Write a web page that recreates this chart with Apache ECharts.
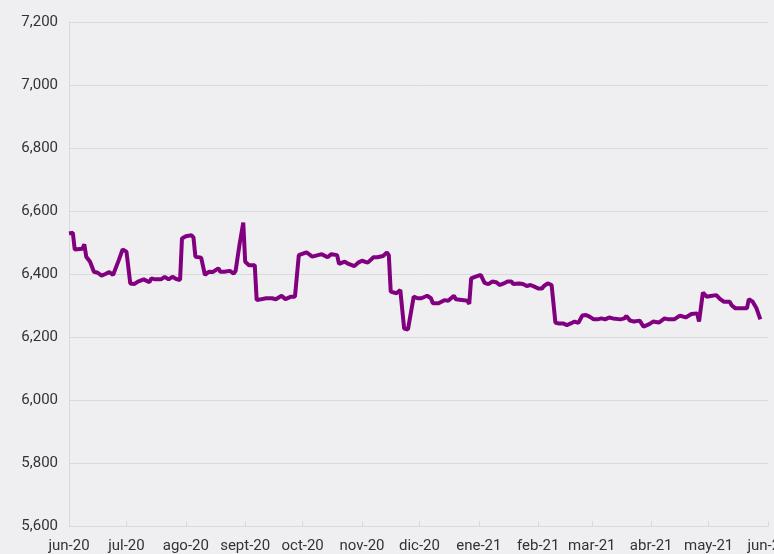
<!DOCTYPE html>
<html>
<head>
<meta charset="utf-8">
<script src="https://cdn.jsdelivr.net/npm/echarts@6/dist/echarts.min.js"></script>
<style>
	html, body { margin: 0; padding: 0; background: #efeff1; }
	#chart { width: 774px; height: 554px; }
</style>
</head>
<body>
<div id="chart"></div>
<script>
/* fechas */
const dates = [
	"2020-06-01", "2020-06-03", "2020-06-04", "2020-06-08", "2020-06-09", "2020-06-10", "2020-06-12", "2020-06-14",
	"2020-06-16", "2020-06-18", "2020-06-20", "2020-06-22", "2020-06-24", "2020-06-27", "2020-06-29", "2020-07-01",
	"2020-07-03", "2020-07-05", "2020-07-07", "2020-07-08", "2020-07-10", "2020-07-13", "2020-07-14", "2020-07-16",
	"2020-07-17", "2020-07-19", "2020-07-21", "2020-07-23", "2020-07-25", "2020-07-27", "2020-07-29", "2020-07-30",
	"2020-08-01", "2020-08-04", "2020-08-05", "2020-08-06", "2020-08-09", "2020-08-10", "2020-08-11", "2020-08-13",
	"2020-08-15", "2020-08-18", "2020-08-19", "2020-08-21", "2020-08-24", "2020-08-26", "2020-08-27", "2020-08-29",
	"2020-08-31", "2020-09-01", "2020-09-03", "2020-09-06", "2020-09-07", "2020-09-08", "2020-09-12", "2020-09-15",
	"2020-09-17", "2020-09-20", "2020-09-22", "2020-09-25", "2020-09-27", "2020-09-28", "2020-09-29", "2020-09-30",
	"2020-10-03", "2020-10-06", "2020-10-09", "2020-10-11", "2020-10-14", "2020-10-16", "2020-10-19", "2020-10-20",
	"2020-10-23", "2020-10-25", "2020-10-28", "2020-10-30", "2020-11-01", "2020-11-04", "2020-11-07", "2020-11-09",
	"2020-11-12", "2020-11-14", "2020-11-15", "2020-11-16", "2020-11-19", "2020-11-21", "2020-11-23", "2020-11-25",
	"2020-11-26", "2020-11-28", "2020-11-30", "2020-12-02", "2020-12-05", "2020-12-07", "2020-12-08", "2020-12-11",
	"2020-12-12", "2020-12-14", "2020-12-16", "2020-12-19", "2020-12-20", "2020-12-24", "2020-12-26", "2020-12-27",
	"2020-12-28", "2020-12-30", "2021-01-02", "2021-01-03", "2021-01-04", "2021-01-06", "2021-01-08", "2021-01-10",
	"2021-01-12", "2021-01-14", "2021-01-16", "2021-01-18", "2021-01-19", "2021-01-22", "2021-01-24", "2021-01-26",
	"2021-01-28", "2021-01-30", "2021-02-01", "2021-02-03", "2021-02-04", "2021-02-06", "2021-02-08", "2021-02-09",
	"2021-02-10", "2021-02-12", "2021-02-14", "2021-02-16", "2021-02-18", "2021-02-20", "2021-02-22", "2021-02-24",
	"2021-02-26", "2021-02-28", "2021-03-02", "2021-03-04", "2021-03-06", "2021-03-08", "2021-03-10", "2021-03-12",
	"2021-03-13", "2021-03-16", "2021-03-18", "2021-03-19", "2021-03-21", "2021-03-23", "2021-03-26", "2021-03-28",
	"2021-03-31", "2021-04-02", "2021-04-05", "2021-04-08", "2021-04-10", "2021-04-13", "2021-04-16", "2021-04-19",
	"2021-04-22", "2021-04-25", "2021-04-26", "2021-04-28", "2021-04-30", "2021-05-02", "2021-05-05", "2021-05-07",
	"2021-05-09", "2021-05-12", "2021-05-13", "2021-05-15", "2021-05-19", "2021-05-21", "2021-05-22", "2021-05-24",
	"2021-05-26", "2021-05-28"
];
/* valores de la serie */
const values = [
	6529, 6531, 6478, 6480, 6494, 6455, 6439, 6407,
	6404, 6395, 6400, 6406, 6397, 6444, 6478, 6471,
	6370, 6368, 6376, 6381, 6383, 6374, 6386, 6383,
	6389, 6383, 6391, 6383, 6391, 6384, 6381, 6513,
	6520, 6523, 6516, 6455, 6452, 6447, 6397, 6407,
	6406, 6418, 6407, 6407, 6410, 6401, 6410, 6492,
	6563, 6439, 6428, 6428, 6317, 6323, 6323, 6323,
	6320, 6331, 6320, 6328, 6328, 6325, 6460, 6457,
	6469, 6455, 6460, 6463, 6453, 6463, 6460, 6432,
	6439, 6432, 6425, 6436, 6442, 6436, 6453, 6453,
	6457, 6468, 6460, 6344, 6339, 6349, 6227, 6224,
	6222, 6328, 6323, 6323, 6331, 6323, 6307, 6307,
	6307, 6317, 6315, 6331, 6320, 6317, 6315, 6305,
	6386, 6391, 6397, 6391, 6372, 6368, 6376, 6374,
	6365, 6370, 6376, 6376, 6368, 6370, 6368, 6362,
	6365, 6360, 6354, 6354, 6362, 6370, 6365, 6362,
	6245, 6243, 6243, 6238, 6243, 6249, 6245, 6268,
	6270, 6264, 6256, 6256, 6259, 6256, 6262, 6259,
	6254, 6256, 6259, 6267, 6252, 6249, 6252, 6233,
	6241, 6249, 6246, 6259, 6256, 6256, 6268, 6262,
	6273, 6275, 6249, 6341, 6328, 6330, 6333, 6320,
	6312, 6312, 6301, 6291, 6291, 6291, 6320, 6312,
	6291, 6256
];
/* etiquetas de meses */
const monthLabels = ["ene", "feb", "mar", "abr", "may", "jun", "jul", "ago", "sept", "oct", "nov", "dic"];
const yTicks = { min: 5600, max: 7200, step: 200 };

const chart = echarts.init(document.getElementById("chart"));
const seriesData = dates.map((d, i) => [d, values[i]]);

chart.setOption({
	backgroundColor: "#efeff1",
	animation: false,
	grid: {
		left: 69,
		right: 6,
		top: 22,
		bottom: 28,
		containLabel: false,
		outerBoundsMode: "none",
	},
	xAxis: {
		type: "time",
		min: new Date(2020, 5, 1).getTime(),
		max: new Date(2021, 5, 1).getTime(),
		minInterval: 28 * 24 * 3600 * 1000,
		maxInterval: 31 * 24 * 3600 * 1000,
		axisLine: {
			show: true,
			lineStyle: { color: "#d9d9d9", width: 1 },
		},
		axisTick: {
			show: true,
			inside: true,
			length: 5,
			lineStyle: { color: "#d9d9d9" },
		},
		splitLine: { show: false },
		axisLabel: {
			color: "#333",
			fontFamily: "Roboto",
			fontSize: 15,
			margin: 13,
			showMinLabel: true,
			showMaxLabel: true,
			hideOverlap: false,
			formatter: (val) => {
				const d = new Date(val);
				return monthLabels[d.getMonth()] + "-" + String(d.getFullYear()).slice(2);
			},
		},
	},
	yAxis: {
		type: "value",
		min: yTicks.min,
		max: yTicks.max,
		interval: yTicks.step,
		axisLine: {
			show: true,
			lineStyle: { color: "#d9d9d9", width: 1 },
		},
		axisTick: { show: false },
		splitLine: {
			lineStyle: { color: "#d9d9d9", width: 1 },
		},
		axisLabel: {
			color: "#333",
			fontFamily: "Roboto",
			fontSize: 15,
			margin: 11,
			formatter: (v) => v.toLocaleString("en-US"),
		},
	},
	series: [
		{
			type: "line",
			data: seriesData,
			showSymbol: false,
			lineStyle: {
				color: "#800080",
				width: 4,
			},
			itemStyle: { color: "#800080" },
		},
	],
});
</script>
</body>
</html>
